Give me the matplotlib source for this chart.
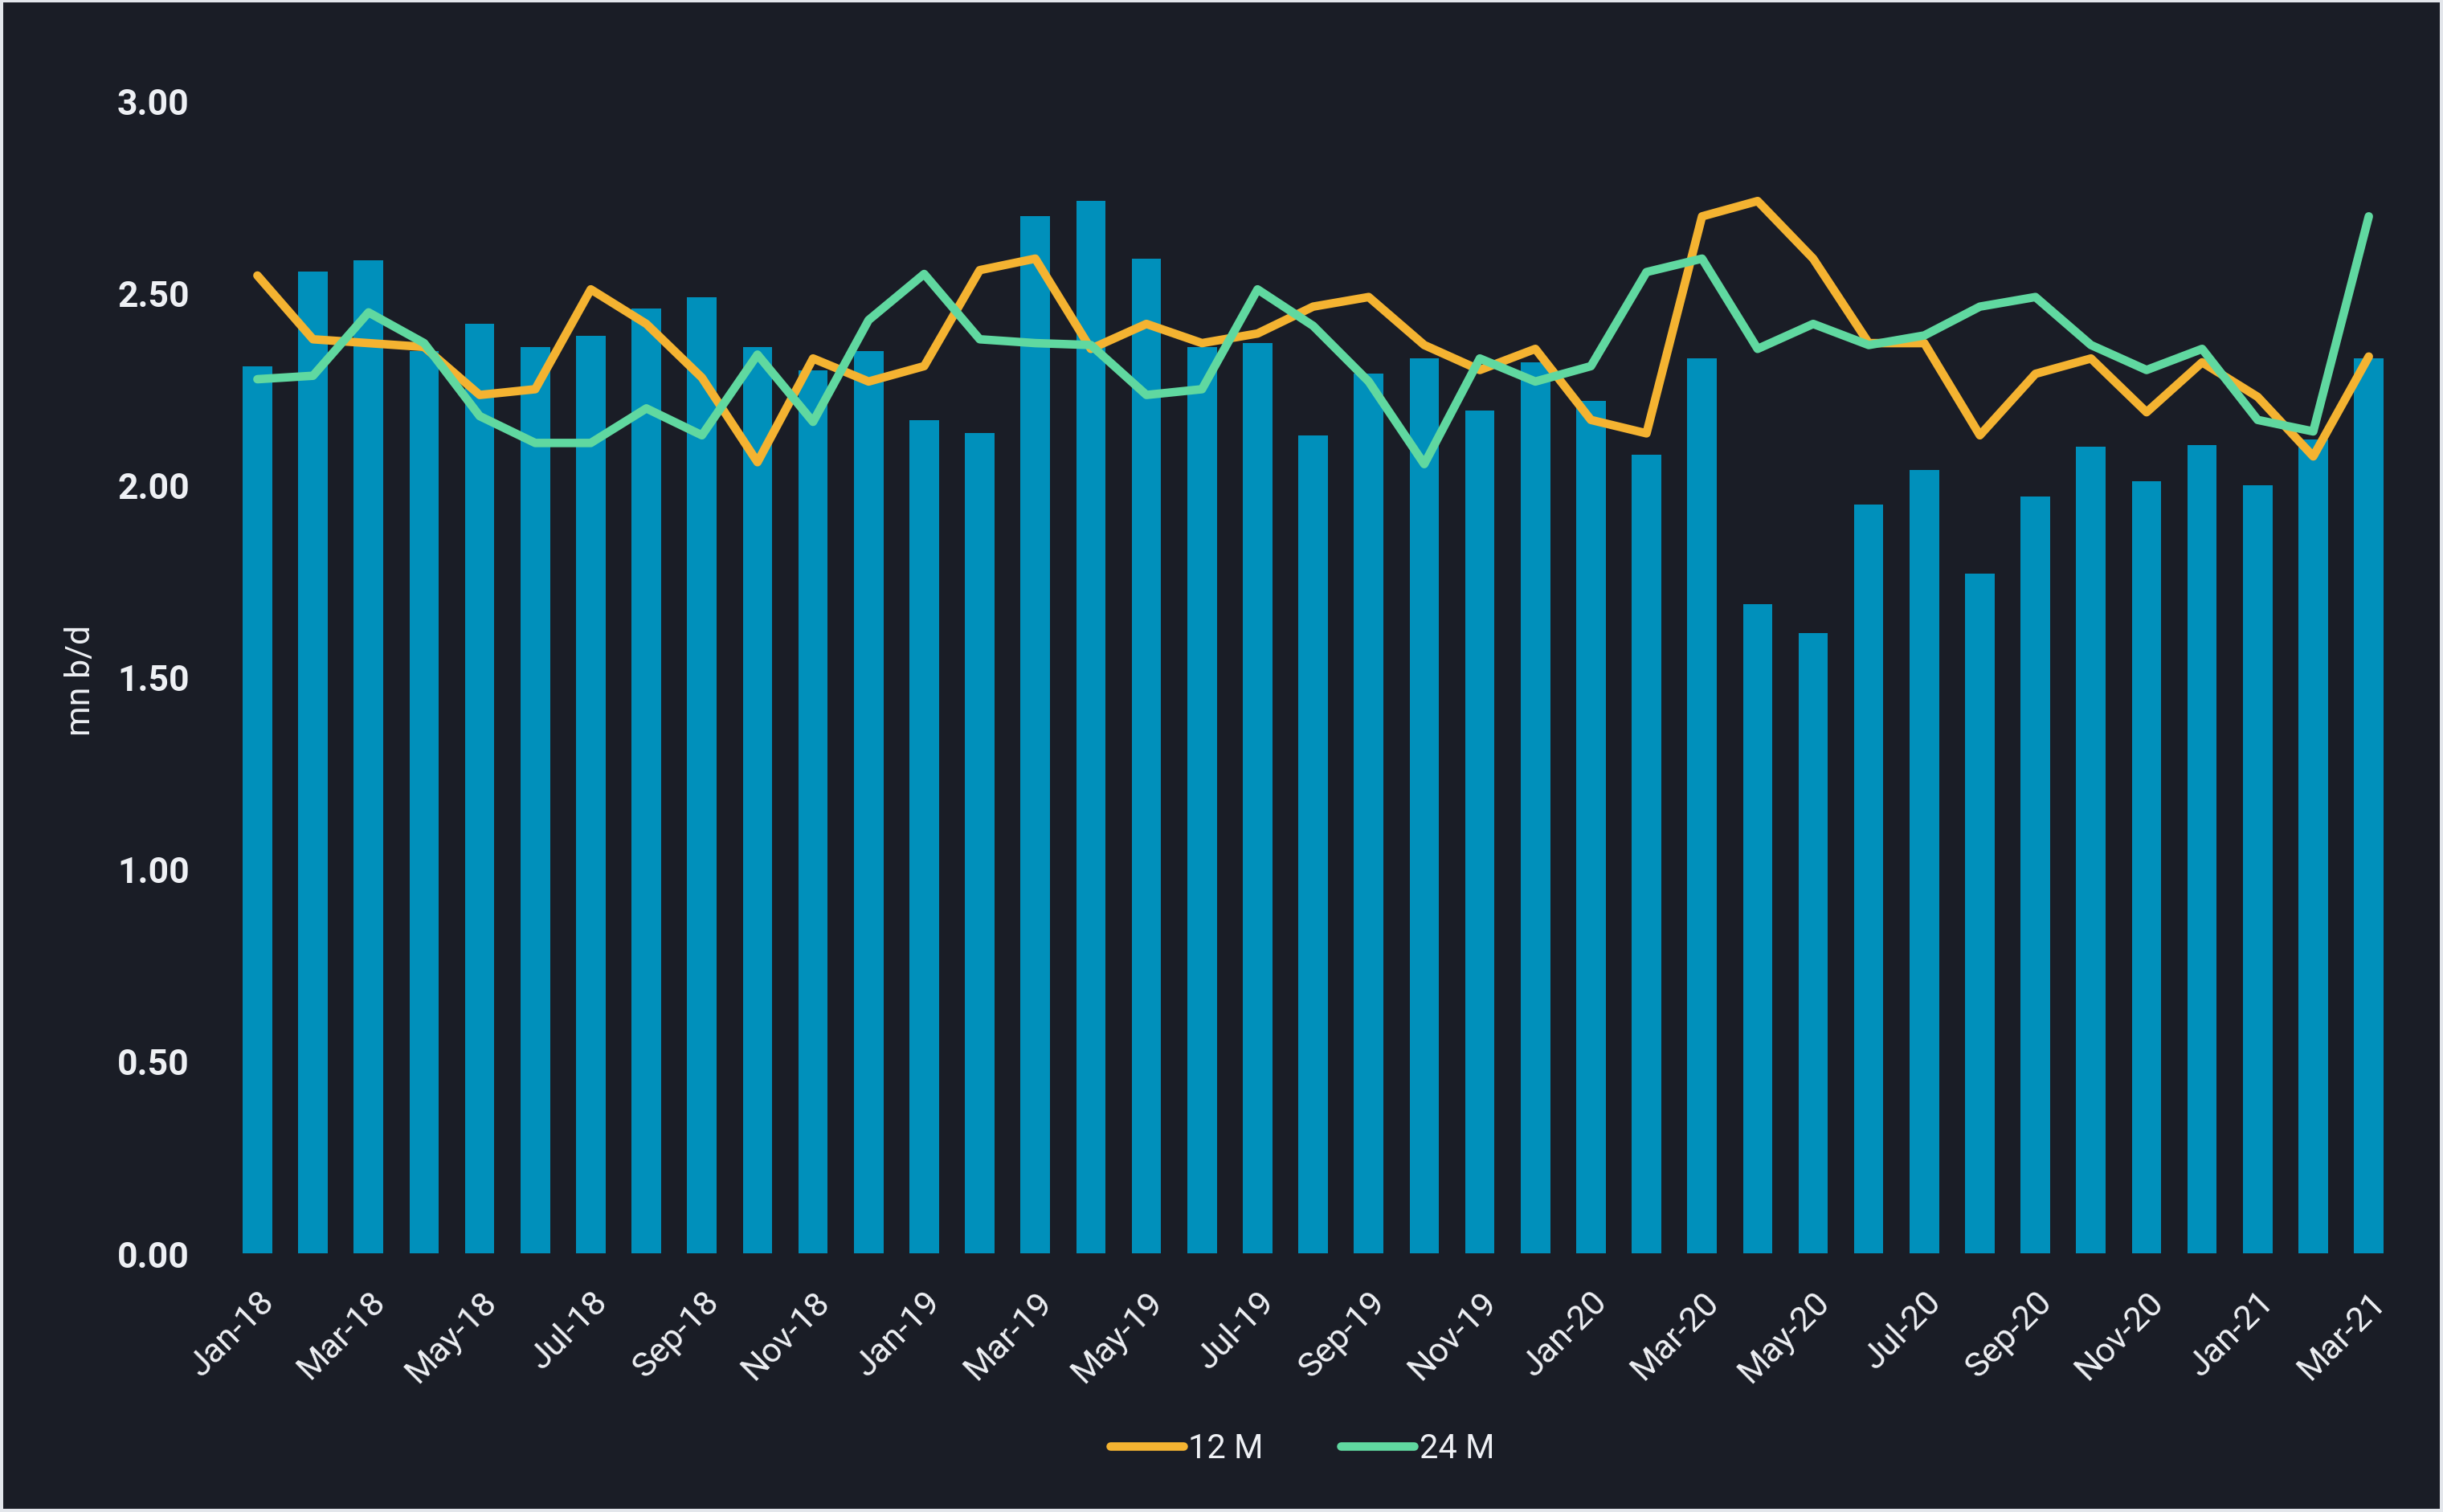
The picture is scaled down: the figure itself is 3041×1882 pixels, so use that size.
import matplotlib
matplotlib.use("Agg")
import matplotlib.pyplot as plt
import numpy as np

plt.rcParams["font.family"] = ["Roboto", "DejaVu Sans"]

months = [
    "Jan-18", "Feb-18", "Mar-18", "Apr-18", "May-18", "Jun-18", "Jul-18", "Aug-18",
    "Sep-18", "Oct-18", "Nov-18", "Dec-18", "Jan-19", "Feb-19", "Mar-19", "Apr-19",
    "May-19", "Jun-19", "Jul-19", "Aug-19", "Sep-19", "Oct-19", "Nov-19", "Dec-19",
    "Jan-20", "Feb-20", "Mar-20", "Apr-20", "May-20", "Jun-20", "Jul-20", "Aug-20",
    "Sep-20", "Oct-20", "Nov-20", "Dec-20", "Jan-21", "Feb-21", "Mar-21",
]

# monthly volume (bars)
volume = [
    2.31, 2.556, 2.585, 2.35, 2.42, 2.36, 2.39, 2.46, 2.49, 2.36,
    2.30, 2.35, 2.17, 2.135, 2.70, 2.74, 2.59, 2.36, 2.37, 2.13,
    2.29, 2.33, 2.195, 2.32, 2.22, 2.08, 2.33, 1.69, 1.615, 1.95,
    2.04, 1.77, 1.97, 2.10, 2.01, 2.105, 2.00, 2.12, 2.33,
]

# 12 M line
m12 = [
    2.546, 2.38, 2.37, 2.36, 2.235, 2.25, 2.51, 2.42, 2.28, 2.06,
    2.33, 2.27, 2.31, 2.56, 2.59, 2.355, 2.42, 2.37, 2.395, 2.465,
    2.49, 2.365, 2.30, 2.355, 2.17, 2.135, 2.70, 2.74, 2.59, 2.37,
    2.37, 2.13, 2.29, 2.33, 2.19, 2.32, 2.23, 2.075, 2.335,
]

# 24 M line
m24 = [
    2.276, 2.285, 2.45, 2.37, 2.18, 2.11, 2.11, 2.20, 2.13, 2.34,
    2.165, 2.43, 2.55, 2.38, 2.37, 2.365, 2.235, 2.25, 2.51, 2.415,
    2.27, 2.055, 2.33, 2.27, 2.31, 2.555, 2.59, 2.355, 2.42, 2.365,
    2.39, 2.465, 2.49, 2.365, 2.30, 2.355, 2.17, 2.14, 2.70,
]

bg = "#1a1d26"
txt = "#eef0f4"
bar_color = "#0090bb"
orange = "#f4b331"
green = "#60d8a0"

fig = plt.figure(figsize=(15.205, 9.415), dpi=200, facecolor=bg,
                 edgecolor="#e3e6eb", linewidth=2.2)
ax = fig.add_axes([0.094, 0.171, 0.887, 0.7616])
ax.set_facecolor(bg)

x = np.arange(len(months))
ax.bar(x, volume, width=0.53, color=bar_color, zorder=1)
ax.plot(x, m12, color=orange, lw=3.8, label="12 M", zorder=2,
        solid_capstyle="round", solid_joinstyle="round")
ax.plot(x, m24, color=green, lw=3.8, label="24 M", zorder=3,
        solid_capstyle="round", solid_joinstyle="round")

ax.set_xlim(-0.5, len(months) - 0.5)
ax.set_ylim(0, 3.0)
ax.set_yticks(np.arange(0, 3.01, 0.5))
ax.set_yticklabels([f"{v:.2f}" for v in np.arange(0, 3.01, 0.5)],
                   fontsize=16, fontweight="bold", color=txt)
ax.set_xticks(x[::2])
ax.set_xticklabels(months[::2], rotation=45, ha="right",
                   rotation_mode="anchor", fontsize=15.5, color=txt)
ax.tick_params(axis="y", length=0, pad=18)
ax.tick_params(axis="x", length=0, pad=14)
for s in ax.spines.values():
    s.set_visible(False)

fig.text(0.033, 0.55, "mn b/d", rotation=90, ha="center", va="center",
         fontsize=15.5, color=txt)

leg = fig.legend(loc="center", bbox_to_anchor=(0.533, 0.042), ncol=2,
                 frameon=False, fontsize=15, handlelength=2.2,
                 handletextpad=0.15, columnspacing=2.3)
for t in leg.get_texts():
    t.set_color(txt)
for h in leg.legend_handles:
    h.set_linewidth(3.8)
    h.set_solid_capstyle("round")

fig.savefig("out.png", dpi=200, facecolor=bg, edgecolor="#e3e6eb")
